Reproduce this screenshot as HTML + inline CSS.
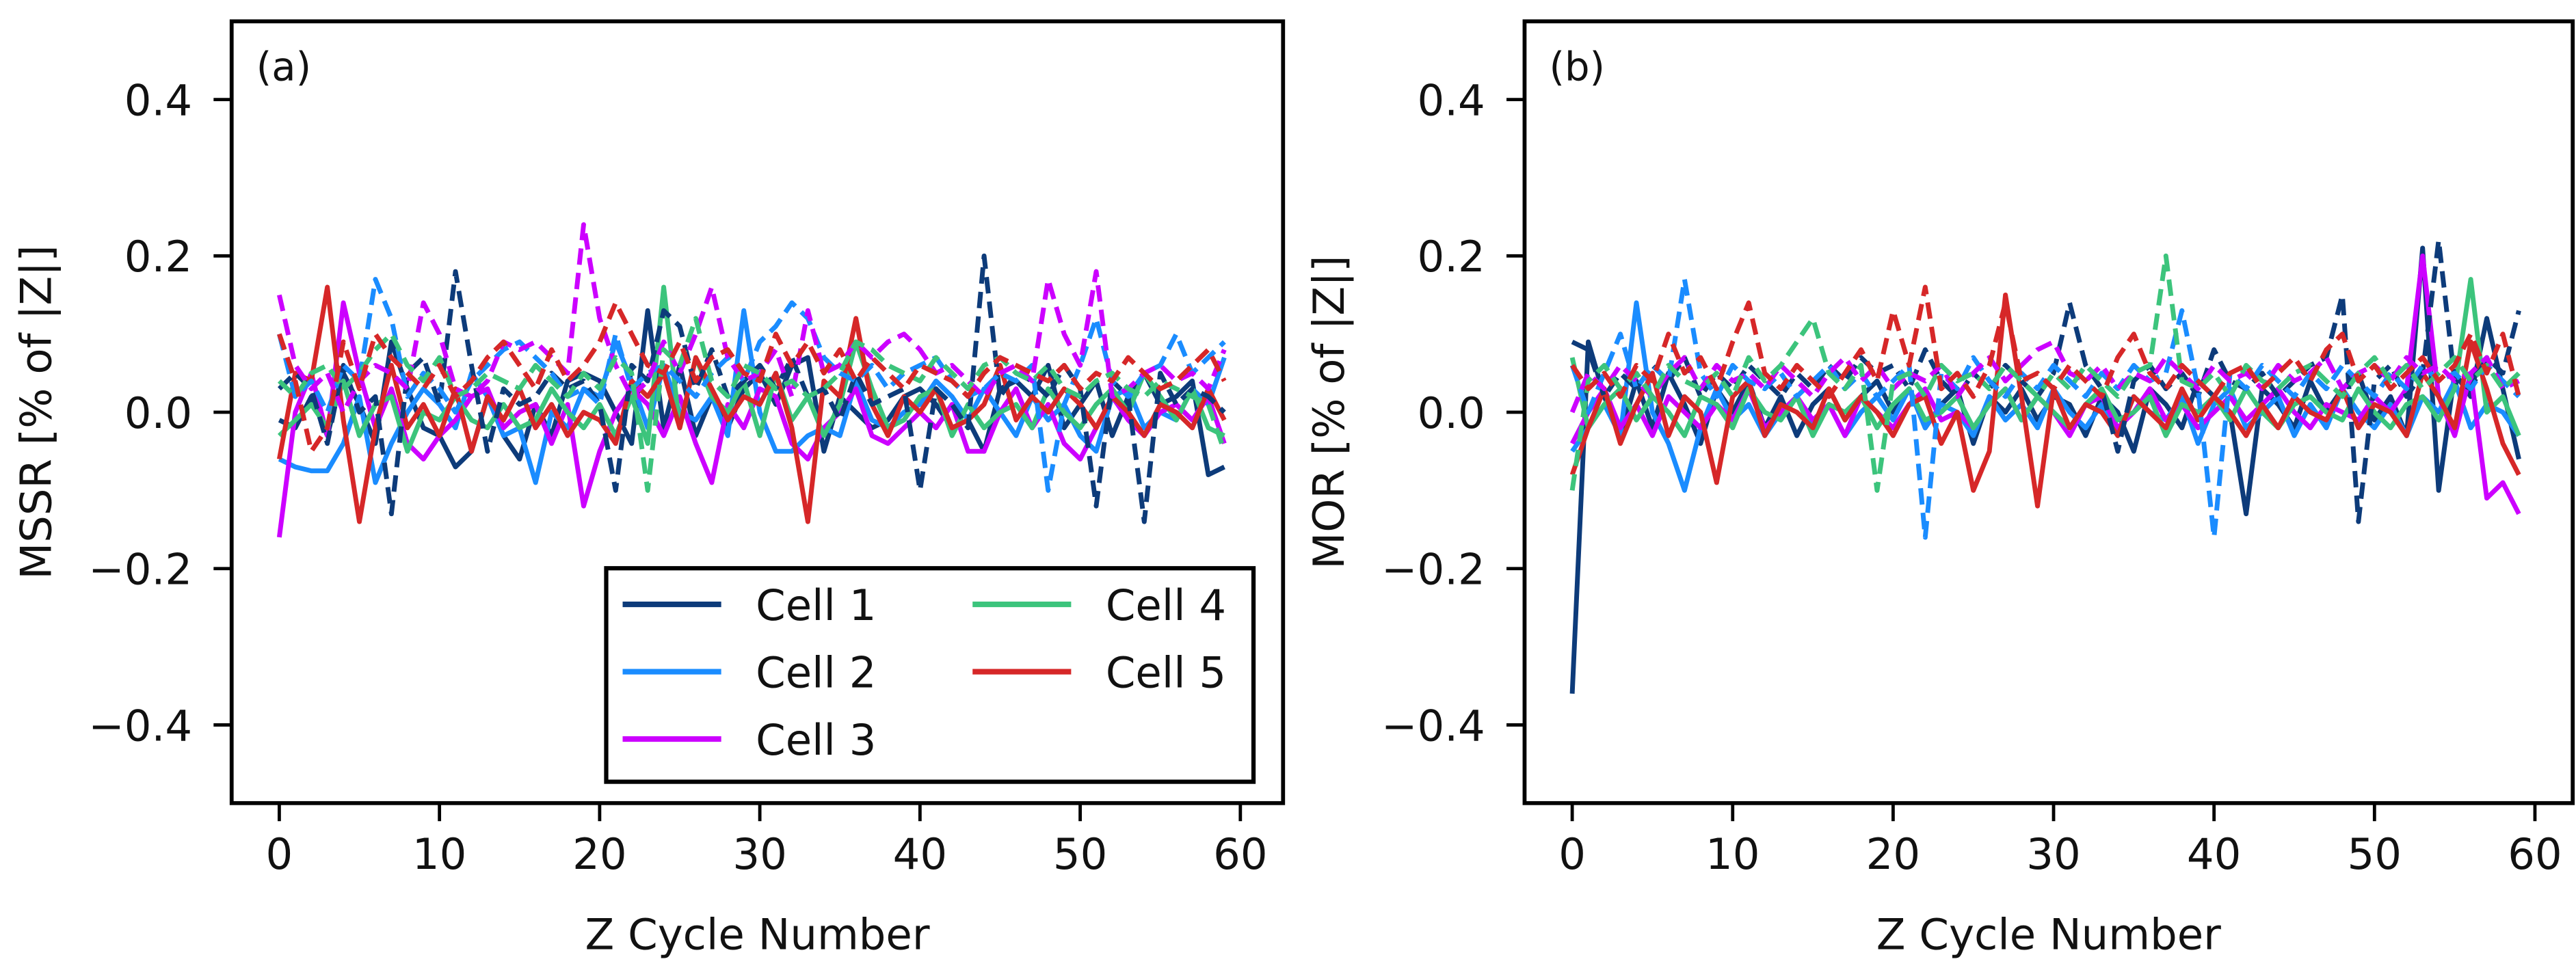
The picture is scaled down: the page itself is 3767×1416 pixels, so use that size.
<!DOCTYPE html>
<html><head><meta charset="utf-8"><style>
html,body{margin:0;padding:0;background:#fff}
svg{display:block}
text{font-family:"DejaVu Sans","Liberation Sans",sans-serif;fill:#111}
</style></head><body>
<svg id="fig" width="3767" height="1416" viewBox="0 0 1568 589.4" xmlns="http://www.w3.org/2000/svg"></svg>
<script>
const cycles = Array.from({length:60},(_,i)=>i);
const yTicks = [-0.4,-0.2,0.0,0.2,0.4];
const yTickLabels = ["\u22120.4","\u22120.2","0.0","0.2","0.4"];
const xTicks = [0,10,20,30,40,50,60];
const cellNames = ["Cell 1","Cell 2","Cell 3","Cell 4","Cell 5"];
const colors = ["#0d3b7a","#1a8cff","#cc00ff","#3cc47c","#d62728"];

const a1s=[-0.01,-0.02,0.02,-0.03,0.05,0.01,-0.04,0.09,0.03,-0.02,-0.03,-0.07,-0.05,0.02,-0.03,-0.06,0.01,-0.03,0.04,0.05,0.04,0.0,-0.04,0.13,-0.02,0.06,-0.03,0.02,-0.02,0.03,0.05,0.01,0.06,0.07,-0.05,0.02,0.0,-0.02,-0.01,0.02,0.03,0.01,-0.02,-0.01,-0.05,0.03,0.04,0.02,0.06,-0.02,0.01,0.04,-0.03,0.02,0.05,0.01,0.02,0.04,-0.08,-0.07];
const a1d=[0.03,0.05,0.03,-0.04,0.06,0.0,0.02,-0.13,0.05,0.07,0.01,0.18,0.06,-0.05,0.03,0.01,0.02,0.05,0.03,0.04,0.01,-0.1,0.06,0.04,0.13,0.11,0.03,0.08,0.02,0.04,0.06,0.03,0.07,0.02,0.03,-0.01,0.05,0.01,0.02,0.03,-0.1,0.03,0.01,-0.02,0.2,0.02,0.05,0.04,0.02,0.06,0.03,-0.12,0.04,0.02,-0.14,0.05,0.01,0.03,0.02,0.0];
const a2s=[-0.06,-0.07,-0.075,-0.075,-0.04,0.02,-0.09,-0.04,0.0,0.03,0.01,-0.02,0.05,0.02,-0.03,-0.02,-0.09,0.0,-0.02,0.03,0.02,0.09,0.04,-0.02,0.06,0.0,-0.01,0.02,-0.03,0.13,0.0,-0.05,-0.05,-0.03,-0.02,-0.03,0.04,-0.01,-0.02,0.0,0.01,0.04,0.02,-0.01,0.03,0.0,-0.03,0.02,-0.01,0.01,-0.03,-0.05,0.02,0.03,-0.02,0.0,-0.01,0.03,0.01,0.07];
const a2d=[0.1,0.02,0.04,0.0,0.06,0.04,0.17,0.12,0.02,0.05,0.03,0.0,0.04,0.06,0.08,0.09,0.07,0.05,0.02,0.03,0.01,0.1,0.03,0.05,0.06,0.04,0.02,0.05,0.07,0.04,0.09,0.11,0.14,0.12,0.07,0.05,0.04,0.06,0.03,0.05,0.06,0.07,0.04,0.02,0.03,0.05,0.04,0.06,-0.1,0.01,0.06,0.12,0.04,0.02,0.05,0.06,0.1,0.05,0.07,0.09];
const a3s=[-0.16,0.0,0.05,-0.03,0.14,0.05,-0.02,0.03,-0.04,-0.06,-0.03,-0.01,0.02,0.03,-0.02,0.0,0.01,-0.04,0.01,-0.12,-0.05,0.0,0.03,0.01,-0.03,0.02,-0.04,-0.09,0.01,-0.02,0.03,0.02,-0.04,-0.06,-0.02,0.0,0.03,-0.03,-0.04,-0.02,0.0,-0.02,0.01,-0.05,-0.05,0.0,0.03,-0.02,0.01,-0.04,-0.06,-0.02,0.02,-0.01,-0.03,0.0,0.01,-0.01,0.02,-0.04];
const a3d=[0.15,0.06,0.03,0.05,0.0,0.04,0.06,0.05,0.03,0.14,0.1,0.03,0.02,0.04,0.09,0.08,0.09,0.07,0.05,0.24,0.12,0.06,0.02,0.04,0.09,0.05,0.1,0.16,0.07,0.04,0.05,0.08,0.02,0.13,0.05,0.06,0.09,0.07,0.09,0.1,0.08,0.05,0.06,0.04,0.02,0.05,0.06,0.04,0.17,0.1,0.06,0.18,0.02,0.03,0.05,0.06,0.04,0.05,0.03,0.08];
const a4s=[-0.03,-0.01,0.01,-0.02,0.04,-0.03,0.01,0.02,-0.05,0.0,-0.01,0.02,-0.01,-0.02,0.01,-0.02,-0.01,0.03,0.0,-0.02,0.01,-0.03,0.02,-0.04,0.16,-0.02,0.07,0.02,0.0,0.04,-0.03,0.05,-0.01,0.02,-0.03,0.01,0.09,0.03,-0.02,-0.01,0.02,0.03,-0.03,0.01,-0.02,0.0,0.01,-0.02,0.03,0.0,-0.02,0.01,0.03,0.0,0.05,0.02,-0.01,0.03,-0.02,-0.03];
const a4d=[0.04,0.02,0.05,0.06,0.03,0.05,0.08,0.1,0.06,0.04,0.07,0.02,0.03,0.05,0.04,0.03,0.06,0.04,0.02,0.05,0.03,0.07,0.05,-0.1,0.08,0.06,0.12,0.04,0.02,0.06,0.05,0.03,0.04,0.02,0.03,0.05,0.09,0.08,0.06,0.05,0.04,0.07,0.05,0.03,0.06,0.07,0.05,0.04,0.06,0.03,0.02,0.04,0.05,0.03,0.02,0.04,0.03,0.02,0.01,-0.05];
const a5s=[-0.06,0.05,0.04,0.16,-0.01,-0.14,-0.02,0.06,-0.02,0.01,-0.03,0.03,-0.05,0.02,-0.01,0.03,-0.02,0.01,-0.03,0.0,-0.01,-0.04,0.04,0.02,0.05,-0.02,0.07,0.03,-0.01,0.02,0.01,0.05,-0.02,-0.14,0.04,0.02,0.12,0.01,-0.03,0.02,0.0,0.03,-0.02,-0.01,0.01,0.06,-0.01,0.02,0.0,0.03,0.01,-0.02,0.02,0.0,-0.03,0.01,0.0,-0.02,0.03,-0.01];
const a5d=[0.1,0.04,-0.05,-0.02,0.09,0.03,0.1,0.07,0.05,0.03,0.06,0.02,0.04,0.07,0.09,0.06,0.03,0.08,0.04,0.06,0.09,0.14,0.1,0.06,0.05,0.09,0.04,0.07,0.08,0.05,0.04,0.1,0.06,0.09,0.05,0.08,0.04,0.07,0.05,0.03,0.06,0.05,0.04,0.02,0.05,0.07,0.06,0.05,0.04,0.06,0.03,0.05,0.04,0.07,0.05,0.03,0.04,0.06,0.08,0.04];

const b1s=[-0.36,0.09,0.02,-0.03,0.04,-0.02,0.05,0.01,-0.04,0.03,0.0,0.04,-0.02,0.02,-0.03,0.01,0.03,-0.01,0.02,0.04,0.0,0.03,-0.02,0.01,0.03,-0.04,0.02,0.0,0.03,-0.01,0.02,0.01,-0.03,0.02,0.0,-0.05,0.03,0.01,-0.02,0.04,0.02,0.0,-0.13,0.03,0.01,-0.02,0.04,0.0,0.03,0.05,-0.01,0.02,-0.03,0.21,-0.1,0.05,0.02,0.12,0.03,-0.06];
const b1d=[0.09,0.08,0.02,0.05,0.03,0.06,0.04,0.07,0.02,0.05,0.03,0.06,0.04,0.02,0.05,0.03,0.06,0.04,0.07,0.05,0.06,0.03,0.08,0.04,0.02,0.05,0.03,0.06,0.04,0.02,0.05,0.14,0.06,0.03,-0.05,0.04,0.06,0.03,0.05,0.02,0.08,0.04,0.03,0.05,0.02,0.04,0.06,0.07,0.15,-0.14,0.04,0.06,0.02,0.05,0.22,0.04,0.03,0.07,0.05,0.13];
const b2s=[-0.05,-0.02,0.01,-0.03,0.14,0.0,-0.04,-0.1,-0.02,0.03,-0.01,0.01,-0.03,0.0,0.02,-0.02,0.01,-0.03,0.0,0.02,-0.01,0.03,-0.02,0.01,0.0,-0.03,0.02,-0.01,0.01,-0.02,0.03,0.0,-0.02,0.01,-0.03,0.02,0.0,-0.01,0.02,-0.04,0.01,0.03,-0.02,0.0,0.02,-0.03,0.01,-0.02,0.03,0.0,-0.02,0.01,-0.03,0.02,0.0,0.04,-0.02,0.01,0.0,-0.03];
const b2d=[0.06,0.0,0.05,0.1,0.03,0.06,0.04,0.17,0.05,0.02,0.06,0.04,0.03,0.05,0.02,0.04,0.06,0.03,0.05,0.02,0.04,0.06,-0.16,0.05,0.03,0.07,0.04,0.02,0.05,0.03,0.06,0.04,0.02,0.05,0.03,0.06,0.04,0.05,0.13,0.03,-0.16,0.05,0.03,0.06,0.04,0.02,0.05,0.03,0.06,0.04,0.02,0.05,0.03,0.06,0.04,0.05,0.03,0.06,0.04,0.02];
const b3s=[-0.04,0.0,0.03,-0.02,0.01,-0.03,0.02,0.0,-0.02,0.01,-0.01,0.03,-0.02,0.0,0.02,-0.01,0.01,-0.03,0.02,0.0,-0.02,0.01,0.03,-0.01,0.0,-0.02,0.01,0.03,-0.01,0.02,0.0,-0.03,0.01,0.02,-0.02,0.0,0.03,-0.01,0.01,-0.02,0.0,0.02,-0.01,0.01,0.03,0.0,-0.02,0.01,0.0,-0.01,0.02,0.0,0.03,0.2,0.02,-0.03,0.05,-0.11,-0.09,-0.13];
const b3d=[0.0,0.05,0.03,0.06,0.04,0.02,0.05,0.07,0.03,0.06,0.04,0.05,0.03,0.06,0.04,0.02,0.05,0.07,0.04,0.06,0.03,0.05,0.04,0.06,0.02,0.05,0.07,0.04,0.06,0.08,0.09,0.05,0.04,0.06,0.03,0.05,0.04,0.07,0.05,0.03,0.06,0.04,0.05,0.03,0.06,0.04,0.05,0.07,0.03,0.05,0.06,0.04,0.07,0.05,0.06,0.04,0.05,0.07,0.03,0.04];
const b4s=[0.07,-0.02,0.01,0.03,-0.01,0.02,0.0,-0.03,0.02,0.01,-0.02,0.03,0.0,-0.01,0.02,-0.03,0.01,0.0,0.02,-0.02,0.01,0.03,-0.01,0.0,0.02,-0.02,0.01,0.03,-0.01,0.02,0.0,-0.02,0.01,0.03,-0.01,0.0,0.02,-0.03,0.01,0.0,0.02,-0.01,0.03,0.0,-0.02,0.01,0.02,0.0,-0.01,0.03,0.0,-0.02,0.01,0.02,-0.01,0.03,0.17,0.0,0.02,-0.03];
const b4d=[-0.1,0.04,0.06,0.03,0.05,0.02,0.06,0.04,0.03,0.05,0.02,0.07,0.04,0.06,0.09,0.12,0.05,0.03,0.06,-0.1,0.04,0.05,0.02,0.06,0.04,0.05,0.03,0.06,0.04,0.02,0.05,0.03,0.06,0.04,0.02,0.05,0.06,0.2,0.04,0.03,0.05,0.02,0.06,0.04,0.03,0.05,0.06,0.04,0.02,0.05,0.07,0.04,0.06,0.03,0.05,0.07,0.04,0.06,0.03,0.05];
const b5s=[-0.08,-0.02,0.03,-0.04,0.01,0.05,-0.03,0.02,0.0,-0.09,0.02,0.04,-0.03,0.01,0.0,-0.02,0.03,-0.01,0.02,0.0,-0.03,0.01,0.02,-0.04,0.0,-0.1,-0.05,0.15,0.02,-0.12,0.03,-0.02,0.01,0.0,-0.03,0.02,0.0,-0.02,0.03,-0.01,0.02,0.0,-0.03,0.01,-0.02,0.02,0.0,-0.01,0.03,-0.02,0.01,0.0,-0.03,0.05,0.02,-0.02,0.09,0.03,-0.04,-0.08];
const b5d=[0.06,0.03,0.05,0.02,0.06,0.04,0.1,0.05,0.07,0.03,0.09,0.14,0.05,0.03,0.06,0.04,0.02,0.05,0.08,0.04,0.13,0.06,0.16,0.03,0.05,0.02,0.06,0.14,0.04,0.05,0.03,0.06,0.04,0.02,0.07,0.1,0.05,0.03,0.06,0.04,0.02,0.05,0.06,0.03,0.05,0.07,0.04,0.08,0.1,0.04,0.06,0.03,0.05,0.07,0.04,0.06,0.1,0.05,0.1,0.02];

const NS="http://www.w3.org/2000/svg";
const svg=document.getElementById('fig');
function mk(tag,attrs,parent){const e=document.createElementNS(NS,tag);for(const k in attrs)e.setAttribute(k,attrs[k]);(parent||svg).appendChild(e);return e;}

function panel(cfg){
  const L=cfg.left,R=cfg.right,T=13,B=489;
  const x0=cfg.x0,x60=cfg.x60;
  const xs=v=>x0+(x60-x0)*v/60;
  const ys=v=>T+(0.5-v)*(B-T);
  const g=mk('g',{});
  
  
  const clip=mk('clipPath',{id:'clip'+cfg.id},g);
  mk('rect',{x:L,y:T,width:R-L,height:B-T},clip);
  const lg=mk('g',{'clip-path':'url(#clip'+cfg.id+')'},g);
  
  
  cfg.series.forEach((s,i)=>{
    const ci=i%5, dashed=i>=5;
    const d=s.map((v,k)=>(k?'L':'M')+xs(cycles[k]).toFixed(2)+' '+ys(v).toFixed(2)).join(' ');
    const p=mk('path',{d:d,fill:'none',stroke:colors[ci],'stroke-width':2.9,'stroke-linejoin':'round'},lg);
    if(dashed)p.setAttribute('stroke-dasharray','10 5');
    
    
  });
  const frame=mk('rect',{x:L,y:T,width:R-L,height:B-T,fill:'none',stroke:'#000','stroke-width':2.4},g);
  
  
  yTicks.forEach((v,i)=>{
    mk('line',{x1:L-11,x2:L,y1:ys(v),y2:ys(v),stroke:'#000','stroke-width':2},g);
    const t=mk('text',{x:L-24,y:ys(v)+9.5,'text-anchor':'end','font-size':26},g);
    t.textContent=yTickLabels[i];
    
    
  });
  xTicks.forEach(v=>{
    mk('line',{x1:xs(v),x2:xs(v),y1:B,y2:B+11,stroke:'#000','stroke-width':2},g);
    const t=mk('text',{x:xs(v),y:B+40,'text-anchor':'middle','font-size':26},g);
    t.textContent=v;
    
    
  });
  const xl=mk('text',{x:(L+R)/2,y:578,'text-anchor':'middle','font-size':26},g);
  xl.textContent='Z Cycle Number';
  
  
  const yl=mk('text',{x:0,y:0,'text-anchor':'middle','font-size':26,transform:'translate('+(L-110)+','+((T+B)/2)+') rotate(-90)'},g);
  yl.textContent=cfg.ylabel;
  
  
  const pl=mk('text',{x:L+15,y:49,'font-size':24},g);
  pl.textContent=cfg.tag;
  
  
}

panel({id:'a',name:'panel-a',left:141,right:781,x0:170,x60:755,ylabel:'MSSR [% of |Z|]',tag:'(a)',series:[a1s,a2s,a3s,a4s,a5s,a1d,a2d,a3d,a4d,a5d]});
panel({id:'b',name:'panel-b',left:928,right:1566,x0:957,x60:1543,ylabel:'MOR [% of |Z|]',tag:'(b)',series:[b1s,b2s,b3s,b4s,b5s,b1d,b2d,b3d,b4d,b5d]});

const leg=mk('g',{});


mk('rect',{x:369,y:346,width:394,height:130,fill:'#fff',stroke:'#000','stroke-width':2.6},leg);
const pos=[[379,368],[379,409],[379,450],[592,368],[592,409]];
cellNames.forEach((n,i)=>{
  const [lx,ly]=pos[i];
  const e=mk('g',{},leg);
  
  
  mk('line',{x1:lx,x2:lx+60,y1:ly,y2:ly,stroke:colors[i],'stroke-width':3.4},e);
  const t=mk('text',{x:lx+81,y:ly+9.5,'font-size':26},e);
  t.textContent=n;
});
</script>
</body></html>
